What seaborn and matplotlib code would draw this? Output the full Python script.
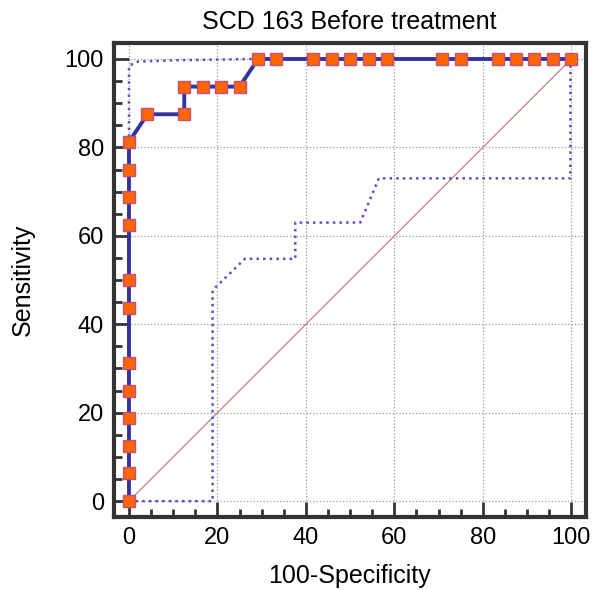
import numpy as np
import pandas as pd
import matplotlib
matplotlib.use("Agg")
import matplotlib.pyplot as plt
import seaborn as sns
from matplotlib.ticker import MultipleLocator

# ROC points (100-Specificity, Sensitivity)
roc_fpr = [0, 0, 0, 0, 0, 0, 0, 0, 0, 0, 0, 0, 4.17, 12.5, 12.5, 16.67, 20.83, 25,
           29.17, 33.33, 41.67, 45.83, 50, 54.17, 58.33, 70.83, 75, 83.33, 87.5,
           91.67, 95.83, 100]
roc_tpr = [0, 6.25, 12.5, 18.75, 25, 31.25, 43.75, 50, 62.5, 68.75, 75, 81.25,
           87.5, 87.5, 93.75, 93.75, 93.75, 93.75, 100, 100, 100, 100, 100, 100,
           100, 100, 100, 100, 100, 100, 100, 100]

# confidence bounds
upper_x = [0, 0, 2, 10, 28, 100]
upper_y = [0, 98.5, 99.4, 99.7, 100, 100]
lower_x = [0, 18.9, 18.9, 26.2, 37.6, 37.6, 52.3, 56.5, 99.8, 99.8]
lower_y = [0, 0, 47.7, 54.8, 54.8, 63.0, 63.0, 73.0, 73.0, 100]

title = "SCD 163 Before treatment"

sns.set_style("white")
plt.rcParams['font.family'] = ['Liberation Sans', 'DejaVu Sans']
plt.rcParams['text.color'] = 'black'
plt.rcParams['axes.labelcolor'] = 'black'
plt.rcParams['xtick.color'] = 'black'
plt.rcParams['ytick.color'] = 'black'

fig = plt.figure(figsize=(5.93, 5.90), dpi=100)
ax = fig.add_axes([0.1914, 0.1237, 0.7966, 0.8033])

ax.grid(True, which='major', color='#999999', linestyle=':', linewidth=0.9)
ax.set_axisbelow(True)

# diagonal reference
ax.plot([0, 100], [0, 100], color='#c07070', linewidth=0.8, zorder=2)

bound_color = '#5555bb'
sns.lineplot(x=upper_x, y=upper_y, sort=False, estimator=None, ax=ax,
             color=bound_color, linestyle=':', linewidth=1.8, zorder=3)
sns.lineplot(x=lower_x, y=lower_y, sort=False, estimator=None, ax=ax,
             color=bound_color, linestyle=':', linewidth=1.8, zorder=3)

sns.lineplot(x=roc_fpr, y=roc_tpr, sort=False, estimator=None, ax=ax,
             color='#3333a0', linewidth=2.8, marker='s', markersize=8.5,
             markerfacecolor='#ff6600', markeredgecolor='#c05080',
             markeredgewidth=1.0, zorder=4)

ax.set_xlim(-3.5, 103.3)
ax.set_ylim(-3.6, 103.6)
ax.xaxis.set_major_locator(MultipleLocator(20))
ax.yaxis.set_major_locator(MultipleLocator(20))
ax.xaxis.set_minor_locator(MultipleLocator(5))
ax.yaxis.set_minor_locator(MultipleLocator(5))

ax.tick_params(which='both', bottom=True, left=True, top=False, right=False)
ax.tick_params(which='major', direction='in', length=11, width=2,
               color='#333333', labelcolor='black', labelsize=17, pad=7)
ax.tick_params(which='minor', direction='in', length=6, width=2,
               color='#333333')
for sp in ax.spines.values():
    sp.set_linewidth(3)
    sp.set_color('#333333')

ax.set_title(title, fontsize=18, pad=10)
ax.set_xlabel("100-Specificity", fontsize=18, labelpad=11)
ax.set_ylabel("Sensitivity", fontsize=18, labelpad=21)

fig.savefig("out.png", dpi=100)
